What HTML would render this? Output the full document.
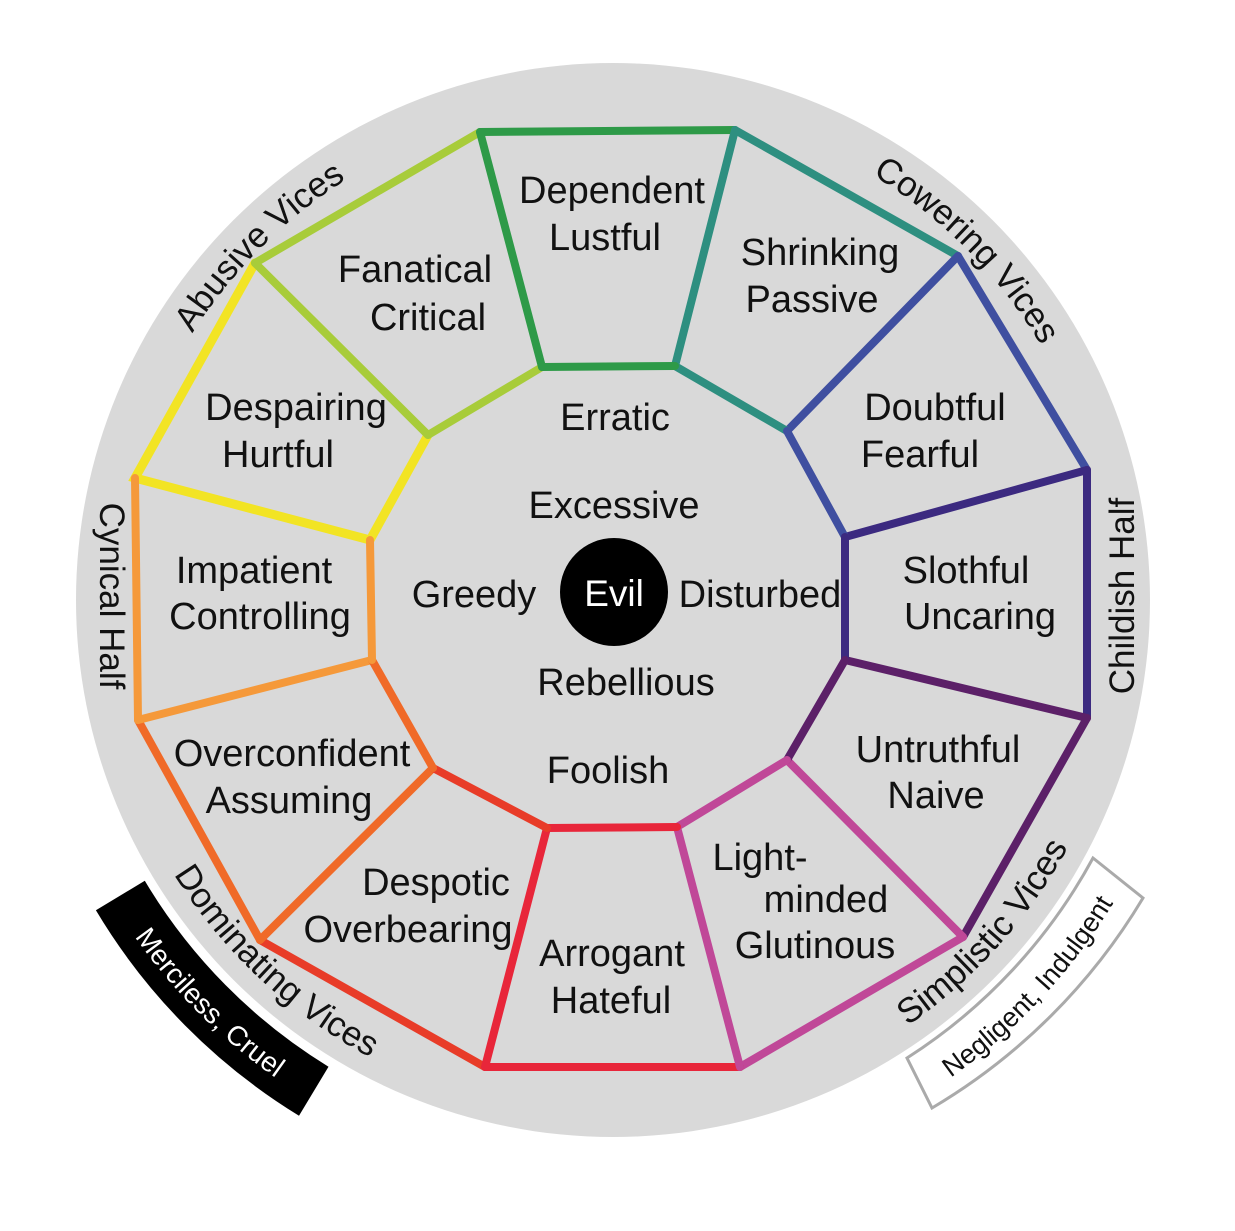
<!DOCTYPE html>
<html><head><meta charset="utf-8"><style>
html,body{margin:0;padding:0;background:#fff;}
svg{display:block;}
text{font-family:"Liberation Sans","DejaVu Sans",sans-serif;fill:#111;}
.l{font-size:38px;text-anchor:middle;}
.c{font-size:35px;}
</style></head><body>
<svg width="1235" height="1231" viewBox="0 0 1235 1231" xmlns="http://www.w3.org/2000/svg">
<defs>
<path id="cw" d="M 115 600 A 498 498 0 0 1 1111 600"/>
<path id="ccwA" d="M 95 600 A 518 518 0 0 0 1131 600"/>
<path id="ccwB" d="M 28 600 A 585 585 0 0 0 1198 600"/>
</defs>
<circle cx="613" cy="600" r="537" fill="#d9d9d9"/>

<path d="M 144.8 880.8 A 546 546 0 0 0 328.5 1066.7 L 299 1115.7 A 603 603 0 0 1 95.9 910.3 Z" fill="#000"/>
<path d="M 907 1058 A 546 546 0 0 0 1093 858 L 1143 898 A 604 604 0 0 1 932 1108 Z" fill="#fff" stroke="#aaa" stroke-width="3"/>

<g fill="none" stroke-width="8" stroke-linejoin="miter" stroke-linecap="round">
<polyline points="428,435 370,540 135,478 255,263" stroke="#f2e424" stroke-width="9"/>
<line x1="255" y1="263" x2="480" y2="132" stroke="#a8cc3a"/>
<line x1="480" y1="132" x2="735" y2="130" stroke="#2e9a48"/>
<line x1="735" y1="130" x2="958" y2="256" stroke="#2e8f80"/>
<line x1="958" y1="256" x2="1087" y2="470" stroke="#3f4fa0"/>
<line x1="1087" y1="470" x2="1087" y2="718" stroke="#3c2a80"/>
<line x1="1087" y1="718" x2="963" y2="937" stroke="#5c2068"/>
<line x1="963" y1="937" x2="740" y2="1067" stroke="#c04898"/>
<line x1="740" y1="1067" x2="485" y2="1067" stroke="#e8263a"/>
<line x1="485" y1="1067" x2="260" y2="940" stroke="#e83c28"/>
<line x1="260" y1="940" x2="138" y2="720" stroke="#f06a28"/>
<line x1="138" y1="720" x2="135" y2="478" stroke="#f5993a"/>
<line x1="735" y1="130" x2="675" y2="366" stroke="#2e8f80"/>
<line x1="958" y1="256" x2="787" y2="431" stroke="#3f4fa0"/>
<line x1="1087" y1="470" x2="845" y2="537" stroke="#3c2a80"/>
<line x1="1087" y1="718" x2="845" y2="660" stroke="#5c2068"/>
<line x1="963" y1="937" x2="787" y2="760" stroke="#c04898"/>
<line x1="740" y1="1067" x2="677" y2="827" stroke="#c04898"/>
<line x1="485" y1="1067" x2="547" y2="828" stroke="#e8263a"/>
<line x1="260" y1="940" x2="433" y2="768" stroke="#f06a28"/>
<line x1="138" y1="720" x2="372" y2="660" stroke="#f5993a"/>
<line x1="255" y1="263" x2="428" y2="435" stroke="#a8cc3a"/>
<line x1="675" y1="366" x2="787" y2="431" stroke="#2e8f80"/>
<line x1="787" y1="431" x2="845" y2="537" stroke="#3f4fa0"/>
<line x1="845" y1="537" x2="845" y2="660" stroke="#3c2a80"/>
<line x1="845" y1="660" x2="787" y2="760" stroke="#5c2068"/>
<line x1="787" y1="760" x2="677" y2="827" stroke="#c04898"/>
<line x1="677" y1="827" x2="547" y2="828" stroke="#e8263a"/>
<line x1="547" y1="828" x2="433" y2="768" stroke="#e83c28"/>
<line x1="433" y1="768" x2="372" y2="660" stroke="#f06a28"/>
<line x1="372" y1="660" x2="370" y2="540" stroke="#f5993a"/>
<line x1="428" y1="435" x2="542" y2="367" stroke="#a8cc3a"/>
<line x1="480" y1="132" x2="542" y2="367" stroke="#2e9a48"/>
<line x1="542" y1="367" x2="675" y2="366" stroke="#2e9a48"/>
</g>

<circle cx="614" cy="592" r="54" fill="#000"/>
<text x="614" y="606" class="l" style="fill:#fff;font-size:37px">Evil</text>

<text class="l" x="612" y="203">Dependent</text><text class="l" x="605" y="250">Lustful</text>
<text class="l" x="415" y="282">Fanatical</text><text class="l" x="428" y="330">Critical</text>
<text class="l" x="820" y="265">Shrinking</text><text class="l" x="812" y="312">Passive</text>
<text class="l" x="296" y="420">Despairing</text><text class="l" x="278" y="467">Hurtful</text>
<text class="l" x="935" y="420">Doubtful</text><text class="l" x="920" y="467">Fearful</text>
<text class="l" x="615" y="430">Erratic</text>
<text class="l" x="614" y="518">Excessive</text>
<text class="l" x="474" y="607">Greedy</text><text class="l" x="760" y="607">Disturbed</text>
<text class="l" x="254" y="583">Impatient</text><text class="l" x="260" y="629">Controlling</text>
<text class="l" x="966" y="583">Slothful</text><text class="l" x="980" y="629">Uncaring</text>
<text class="l" x="626" y="695">Rebellious</text>
<text class="l" x="938" y="762">Untruthful</text><text class="l" x="936" y="808">Naive</text>
<text class="l" x="292" y="766">Overconfident</text><text class="l" x="289" y="813">Assuming</text>
<text class="l" x="608" y="783">Foolish</text>
<text class="l" x="760" y="870">Light-</text><text class="l" x="826" y="912">minded</text><text class="l" x="815" y="958">Glutinous</text>
<text class="l" x="436" y="895">Despotic</text><text class="l" x="408" y="942">Overbearing</text>
<text class="l" x="612" y="966">Arrogant</text><text class="l" x="611" y="1013">Hateful</text>

<text class="c"><textPath href="#cw" startOffset="391" text-anchor="middle">Abusive Vices</textPath></text>
<text class="c"><textPath href="#cw" startOffset="1176" text-anchor="middle">Cowering Vices</textPath></text>
<text class="c"><textPath href="#ccwA" startOffset="425" text-anchor="middle">Dominating Vices</textPath></text>
<text class="c"><textPath href="#ccwA" startOffset="1248" text-anchor="middle">Simplistic Vices</textPath></text>
<text style="font-size:28px;fill:#fff"><textPath href="#ccwB" startOffset="459" text-anchor="middle">Merciless, Cruel</textPath></text>
<text style="font-size:27px"><textPath href="#ccwB" startOffset="1399" text-anchor="middle">Negligent, Indulgent</textPath></text>

<text class="c" transform="translate(100,596) rotate(90)" text-anchor="middle">Cynical Half</text>
<text class="c" transform="translate(1134,596) rotate(-90)" text-anchor="middle">Childish Half</text>
</svg>
</body></html>
